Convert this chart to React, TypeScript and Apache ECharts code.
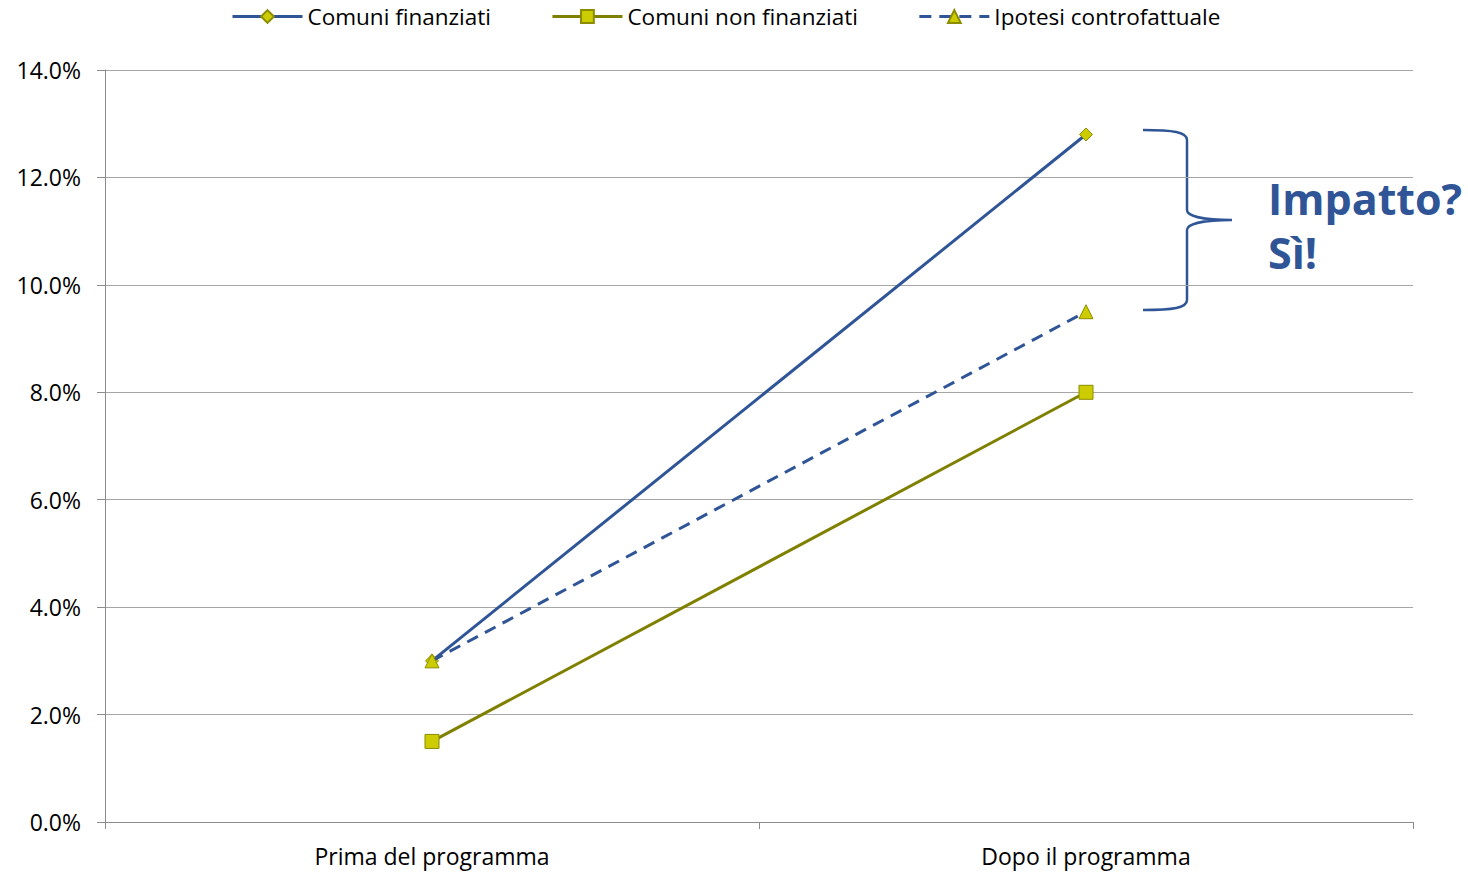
import React, { useEffect, useRef } from "react";
import * as echarts from "echarts";

const categories = ["Prima del programma", "Dopo il programma"];
const finanziati = [3.0, 12.8];
const nonFinanziati = [1.5, 8.0];
const controfattuale = [3.0, 9.5];
const seriesNames = ["Comuni finanziati", "Comuni non finanziati", "Ipotesi controfattuale"];
const annotationLines = ["Impatto?", "Sì!"];

const FONT = "'Open Sans', 'Noto Sans', sans-serif";
const BLUE = "#2F5597";
const OLIVE = "#808000";
const MARK = "#CCCC00";

const bracePath =
  "M0 0 C 30 0, 44 2, 44 10 L 44 80 C 44 86, 60 90, 89 90 C 60 90, 44 94, 44 100 L 44 170 C 44 178, 30 180, 0 180";

export default function App() {
  const ref = useRef<HTMLDivElement>(null);
  useEffect(() => {
    if (!ref.current) return;
    echarts.graphic.registerShape("brace", echarts.graphic.extendPath(bracePath, {}) as any);
    const chart = echarts.init(ref.current, null, { renderer: "svg" });
    const mk = { color: MARK, borderColor: "#8C8C00", borderWidth: 1 };
    chart.setOption({
      animation: false,
      textStyle: { fontFamily: FONT },
      legend: {
        top: 0,
        left: 226,
        itemWidth: 70,
        itemHeight: 16,
        itemGap: 60,
        lineStyle: { width: 3 },
        textStyle: { fontSize: 22.5, color: "#000", fontFamily: FONT },
        data: seriesNames,
      },
      grid: { left: 105, right: 55, top: 70, bottom: 50, containLabel: false },
      xAxis: {
        type: "category",
        data: categories,
        boundaryGap: true,
        axisLine: { lineStyle: { color: "#8C8C8C", width: 1 } },
        axisTick: { show: true, length: 7, lineStyle: { color: "#8C8C8C" } },
        axisLabel: { fontSize: 23, color: "#000", margin: 22, fontFamily: FONT },
      },
      yAxis: {
        type: "value",
        min: 0,
        max: 14,
        interval: 2,
        axisLine: { show: true, lineStyle: { color: "#8C8C8C", width: 1 } },
        axisTick: { show: true, length: 8, lineStyle: { color: "#8C8C8C" } },
        axisLabel: {
          fontSize: 23,
          color: "#000",
          margin: 24,
          fontFamily: FONT,
          formatter: (v: number) => v.toFixed(1) + "%",
        },
        splitLine: { lineStyle: { color: "#A6A6A6", width: 1 } },
      },
      series: [
        {
          name: seriesNames[0],
          type: "line",
          data: finanziati,
          symbol: "diamond",
          symbolSize: 13,
          lineStyle: { color: BLUE, width: 3 },
          itemStyle: mk,
          color: BLUE,
          z: 3,
        },
        {
          name: seriesNames[1],
          type: "line",
          data: nonFinanziati,
          symbol: "rect",
          symbolSize: 14,
          lineStyle: { color: OLIVE, width: 3 },
          itemStyle: mk,
          color: OLIVE,
        },
        {
          name: seriesNames[2],
          type: "line",
          data: controfattuale,
          symbol: "triangle",
          symbolSize: 14,
          lineStyle: { color: BLUE, width: 3, type: [12, 8] },
          itemStyle: mk,
          color: BLUE,
          z: 4,
        },
      ],
      graphic: [
        {
          type: "brace",
          x: 1143,
          y: 130,
          scaleX: 1,
          scaleY: 1,
          style: { fill: null, stroke: BLUE, lineWidth: 2.5 },
        },
        {
          type: "text",
          x: 1268,
          y: 171,
          style: {
            text: annotationLines.join("\n"),
            fontSize: 43,
            fontWeight: "bold",
            fill: BLUE,
            fontFamily: FONT,
            lineHeight: 54,
          },
        },
      ],
    });
    return () => chart.dispose();
  }, []);
  return <div ref={ref} style={{ width: 1468, height: 872, position: "absolute", left: 0, top: 0 }} />;
}
